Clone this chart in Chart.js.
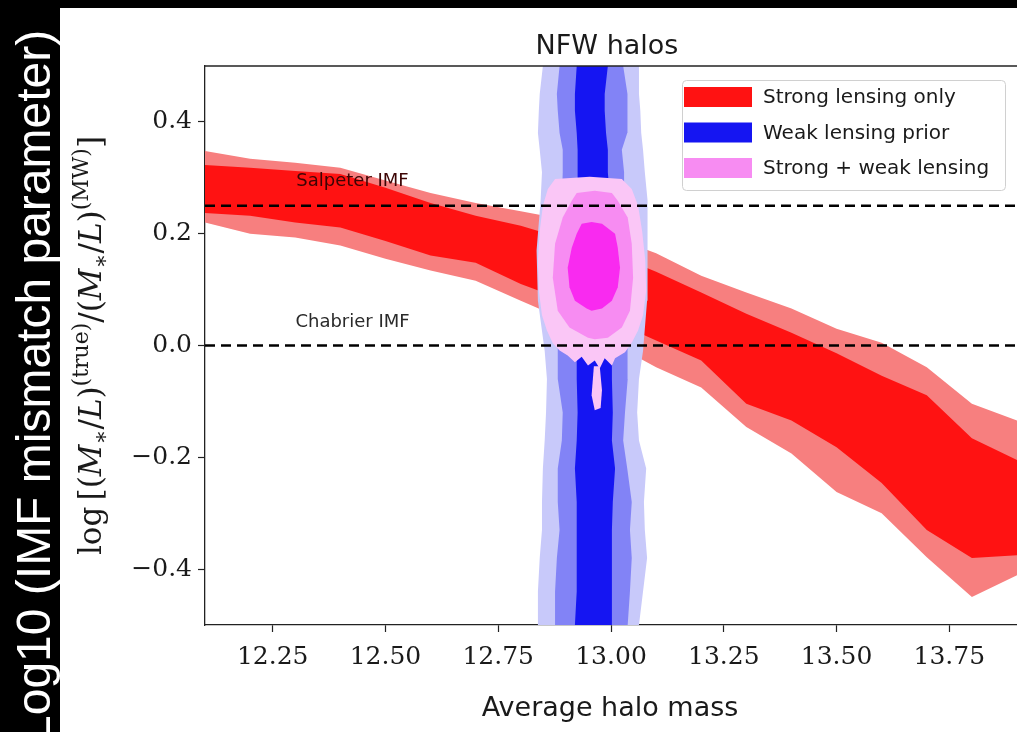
<!DOCTYPE html>
<html>
<head>
<meta charset="utf-8">
<script src="https://cdn.jsdelivr.net/npm/chart.js@4.4.0/dist/chart.umd.min.js"></script>
<style>
  html, body { margin: 0; padding: 0; background: #000; }
  #chart { display: block; }
</style>
</head>
<body>
<canvas id="chart" width="1017" height="732"></canvas>
<script>
// halo mass grid of the strong lensing bands
const massGrid = [12.1, 12.2, 12.3, 12.4, 12.5, 12.6, 12.7, 12.8, 12.9, 13.0, 13.1, 13.2, 13.3, 13.4, 13.5, 13.6, 13.7, 13.8, 13.9];
const slOuterHigh = [0.348, 0.334, 0.327, 0.318, 0.295, 0.273, 0.255, 0.240, 0.225, 0.195, 0.165, 0.125, 0.095, 0.066, 0.030, 0.005, -0.039, -0.104, -0.134];
const slInnerHigh = [0.323, 0.318, 0.312, 0.307, 0.282, 0.255, 0.232, 0.214, 0.190, 0.165, 0.132, 0.095, 0.057, 0.023, -0.014, -0.054, -0.089, -0.166, -0.205];
const slInnerLow = [0.237, 0.232, 0.220, 0.211, 0.187, 0.161, 0.148, 0.110, 0.080, 0.045, 0.009, -0.027, -0.104, -0.134, -0.182, -0.246, -0.330, -0.380, -0.375];
const slOuterLow = [0.220, 0.200, 0.193, 0.179, 0.155, 0.134, 0.116, 0.080, 0.045, 0.005, -0.039, -0.075, -0.146, -0.193, -0.262, -0.300, -0.379, -0.450, -0.411];

// weak lensing prior contours: left / right edge at each height
const wlHeights = [0.5, 0.45, 0.42, 0.38, 0.35, 0.31, 0.26, 0.17, 0.08, -0.01, -0.06, -0.12, -0.17, -0.22, -0.28, -0.33, -0.38, -0.44, -0.5];
const wlLightLeft = [12.849, 12.842, 12.840, 12.838, 12.842, 12.847, 12.844, 12.835, 12.838, 12.853, 12.858, 12.856, 12.853, 12.849, 12.847, 12.847, 12.842, 12.838, 12.838];
const wlLightRight = [13.062, 13.062, 13.065, 13.067, 13.071, 13.075, 13.080, 13.082, 13.080, 13.071, 13.062, 13.058, 13.062, 13.078, 13.073, 13.075, 13.080, 13.071, 13.062];
const wlMidLeft = [12.886, 12.880, 12.882, 12.886, 12.893, 12.893, 12.891, 12.886, 12.882, 12.882, 12.882, 12.893, 12.891, 12.882, 12.882, 12.886, 12.880, 12.876, 12.876];
const wlMidRight = [13.027, 13.036, 13.037, 13.036, 13.024, 13.029, 13.031, 13.036, 13.037, 13.037, 13.037, 13.031, 13.027, 13.036, 13.046, 13.042, 13.046, 13.042, 13.037];
const wlCoreLeft = [12.924, 12.920, 12.920, 12.924, 12.926, 12.926, 12.926, 12.926, 12.924, 12.924, 12.924, 12.926, 12.924, 12.920, 12.924, 12.924, 12.924, 12.924, 12.920];
const wlCoreRight = [12.993, 12.986, 12.986, 12.989, 12.993, 12.993, 12.998, 13.002, 13.002, 13.002, 13.002, 13.004, 13.002, 13.009, 13.004, 13.002, 13.002, 13.002, 13.002];

// strong + weak lensing contours (outlines)
const swOuterX = [12.876, 12.953, 13.024, 13.046, 13.060, 13.069, 13.076, 13.078, 13.071, 13.060, 13.046, 13.031, 13.009, 13.002, 12.986, 12.975, 12.964, 12.949, 12.935, 12.920, 12.904, 12.886, 12.871, 12.858, 12.847, 12.840, 12.838, 12.842, 12.849, 12.860];
const swOuterY = [0.298, 0.302, 0.298, 0.280, 0.250, 0.205, 0.152, 0.098, 0.054, 0.027, 0.005, -0.012, -0.023, -0.036, -0.023, -0.041, -0.027, -0.036, -0.020, -0.030, -0.018, -0.009, 0.004, 0.027, 0.054, 0.098, 0.152, 0.205, 0.250, 0.280];
const swDripX = [12.962, 12.975, 12.980, 12.977, 12.964, 12.957];
const swDripY = [-0.037, -0.037, -0.080, -0.112, -0.116, -0.089];
const swMidX = [12.924, 12.964, 13.002, 13.015, 13.037, 13.046, 13.049, 13.042, 13.024, 12.993, 12.964, 12.949, 12.908, 12.882, 12.871, 12.876, 12.893, 12.913];
const swMidY = [0.273, 0.277, 0.273, 0.259, 0.229, 0.182, 0.121, 0.062, 0.032, 0.014, 0.011, 0.014, 0.032, 0.062, 0.121, 0.182, 0.229, 0.259];
const swCoreX = [12.935, 12.957, 12.980, 13.009, 13.015, 13.020, 13.015, 13.002, 12.980, 12.957, 12.946, 12.920, 12.908, 12.904, 12.913, 12.924];
const swCoreY = [0.218, 0.221, 0.218, 0.200, 0.175, 0.139, 0.104, 0.080, 0.066, 0.062, 0.066, 0.080, 0.104, 0.139, 0.175, 0.200];

// IMF reference lines and their labels
const imfLevels = [0.25, 0.0];
const imfNames = ['Salpeter IMF', 'Chabrier IMF'];
const imfNameX = [12.427, 12.427];
const imfNameY = [0.293, 0.041];

const xTicks = [12.25, 12.5, 12.75, 13.0, 13.25, 13.5, 13.75];
const yTicks = [-0.4, -0.2, 0.0, 0.2, 0.4];

const pts = (xs, ys) => xs.map((x, i) => ({ x: x, y: ys[i] }));
// closed outline of a vertical contour stripe
const stripe = (left, right) => pts(left, wlHeights).concat(pts(right, wlHeights).reverse());

function line(data, order, extra) {
  return Object.assign({ data: data, order: order, borderWidth: 0, borderColor: 'transparent', pointRadius: 0, fill: false }, extra);
}

const datasets = [
  line(pts(massGrid, slOuterHigh), 9),
  line(pts(massGrid, slOuterLow), 9, { fill: '-1', backgroundColor: '#f77f7f' }),
  line(pts(massGrid, slInnerHigh), 8),
  line(pts(massGrid, slInnerLow), 8, { fill: '-1', backgroundColor: '#ff1212', legendText: 'Strong lensing only' }),
  line(stripe(wlLightLeft, wlLightRight), 7, { fill: 'shape', backgroundColor: '#c8c9fa' }),
  line(stripe(wlMidLeft, wlMidRight), 6, { fill: 'shape', backgroundColor: '#8283f6' }),
  line(stripe(wlCoreLeft, wlCoreRight), 5, { fill: 'shape', backgroundColor: '#1515f2', legendText: 'Weak lensing prior' }),
  line(pts(swOuterX, swOuterY), 4, { fill: 'shape', backgroundColor: '#fac6f6' }),
  line(pts(swDripX, swDripY), 4, { fill: 'shape', backgroundColor: '#fac6f6' }),
  line(pts(swMidX, swMidY), 3, { fill: 'shape', backgroundColor: '#f78cf2', legendText: 'Strong + weak lensing' }),
  line(pts(swCoreX, swCoreY), 2, { fill: 'shape', backgroundColor: '#f92af0' })
];
imfLevels.forEach(v => {
  datasets.push(line([{ x: massGrid[0], y: v }, { x: massGrid[massGrid.length - 1], y: v }], 1,
    { borderWidth: 2.5, borderColor: '#000', borderDash: [10, 6] }));
});

const frame = {
  id: 'frame',
  beforeDraw(chart) {
    const ctx = chart.ctx;
    ctx.save();
    ctx.fillStyle = '#000';
    ctx.fillRect(0, 0, chart.width, chart.height);
    ctx.fillStyle = '#fff';
    ctx.fillRect(60, 8, chart.width - 60, chart.height - 8);
    // slide caption on the black strip
    ctx.translate(50, 742);
    ctx.rotate(-Math.PI / 2);
    ctx.fillStyle = '#fff';
    ctx.font = '48px "Liberation Sans", Arial, sans-serif';
    ctx.textAlign = 'left';
    ctx.textBaseline = 'alphabetic';
    ctx.fillText('Log10 (IMF mismatch parameter)', 0, 0);
    ctx.restore();
  },
  afterDraw(chart) {
    const ctx = chart.ctx;
    const a = chart.chartArea;
    const xs = chart.scales.x, ys = chart.scales.y;
    ctx.save();
    // top spine
    ctx.strokeStyle = '#222';
    ctx.lineWidth = 1.3;
    ctx.beginPath();
    ctx.moveTo(a.left, a.top);
    ctx.lineTo(a.right, a.top);
    ctx.stroke();

    // title and x label
    ctx.fillStyle = '#1a1a1a';
    ctx.textAlign = 'center';
    ctx.textBaseline = 'alphabetic';
    ctx.font = '27px "DejaVu Sans", sans-serif';
    ctx.fillText('NFW halos', 607, 54);
    ctx.fillText('Average halo mass', 610, 716);

    // IMF labels
    ctx.font = '18px "DejaVu Sans", sans-serif';
    ctx.textBaseline = 'middle';
    imfNames.forEach((t, i) => {
      ctx.fillStyle = i === 0 ? '#3c0505' : '#2a2a2a';
      ctx.fillText(t, xs.getPixelForValue(imfNameX[i]), ys.getPixelForValue(imfNameY[i]));
    });

    // y label, latex-like
    const parts = [
      ['log', 'n'], ['\u2009[(', 'n'], ['M', 'i'], ['\u2217', 's'], ['/', 'n'], ['L', 'i'], [')', 'n'], ['(true)', 'u'],
      ['/(', 'n'], ['M', 'i'], ['\u2217', 's'], ['/', 'n'], ['L', 'i'], [')', 'n'], ['(MW)', 'u'], [']', 'n']
    ];
    const fonts = {
      n: '31px "DejaVu Serif", serif',
      i: 'italic 31px "DejaVu Serif", serif',
      s: '22px "DejaVu Serif", serif',
      u: '22px "DejaVu Serif", serif'
    };
    const shift = { n: 0, i: 0, s: 7, u: -13 };
    let total = 0;
    parts.forEach(p => { ctx.font = fonts[p[1]]; total += ctx.measureText(p[0]).width; });
    ctx.save();
    ctx.translate(101, (a.top + a.bottom) / 2 + total / 2);
    ctx.rotate(-Math.PI / 2);
    ctx.fillStyle = '#1a1a1a';
    ctx.textAlign = 'left';
    ctx.textBaseline = 'alphabetic';
    let pos = 0;
    parts.forEach(p => {
      ctx.font = fonts[p[1]];
      ctx.fillText(p[0], pos, shift[p[1]]);
      pos += ctx.measureText(p[0]).width;
    });
    ctx.restore();

    // legend box
    const bx = 682, by = 80, bw = 323, bh = 110;
    ctx.fillStyle = 'rgba(255,255,255,0.85)';
    ctx.strokeStyle = '#d0d0d0';
    ctx.lineWidth = 1;
    ctx.beginPath();
    ctx.roundRect(bx + 0.5, by + 0.5, bw, bh, 4);
    ctx.fill();
    ctx.stroke();
    ctx.font = '20px "DejaVu Sans", sans-serif';
    ctx.textAlign = 'left';
    ctx.textBaseline = 'middle';
    const items = chart.data.datasets.filter(d => d.legendText);
    items.forEach((d, i) => {
      const cy = 97 + i * 35.5;
      ctx.fillStyle = d.backgroundColor;
      ctx.fillRect(684, cy - 10, 68, 20);
      ctx.fillStyle = '#1a1a1a';
      ctx.fillText(d.legendText, 763, cy + 1);
    });
    ctx.restore();
  }
};

new Chart(document.getElementById('chart'), {
  type: 'line',
  data: { datasets: datasets },
  options: {
    responsive: false,
    animation: false,
    devicePixelRatio: 1,
    layout: { padding: { left: 0, top: 66, right: 0, bottom: 0 } },
    elements: { line: { tension: 0 }, point: { radius: 0 } },
    plugins: { legend: { display: false }, title: { display: false }, tooltip: { enabled: false } },
    scales: {
      x: {
        type: 'linear',
        min: 12.1,
        max: 13.9,
        afterBuildTicks(scale) { scale.ticks = xTicks.map(v => ({ value: v })); },
        afterFit(scale) { scale.height = 107; },
        ticks: {
          autoSkip: false,
          maxRotation: 0,
          padding: 10,
          color: '#1a1a1a',
          font: { family: '"DejaVu Serif", serif', size: 25 },
          callback: v => v.toFixed(2)
        },
        grid: { drawOnChartArea: false, drawTicks: true, tickLength: 7, tickWidth: 1.2, tickColor: '#222' },
        border: { display: true, color: '#222', width: 1.3 }
      },
      y: {
        type: 'linear',
        min: -0.5,
        max: 0.5,
        afterBuildTicks(scale) { scale.ticks = yTicks.map(v => ({ value: v })); },
        afterFit(scale) { scale.width = 205; },
        ticks: {
          autoSkip: false,
          padding: 6,
          color: '#1a1a1a',
          font: { family: '"DejaVu Serif", serif', size: 25 },
          callback: v => (v < 0 ? '\u2212' : '') + Math.abs(v).toFixed(1)
        },
        grid: { drawOnChartArea: false, drawTicks: true, tickLength: 7, tickWidth: 1.2, tickColor: '#222' },
        border: { display: true, color: '#222', width: 1.3 }
      }
    }
  },
  plugins: [frame]
});
</script>
</body>
</html>
